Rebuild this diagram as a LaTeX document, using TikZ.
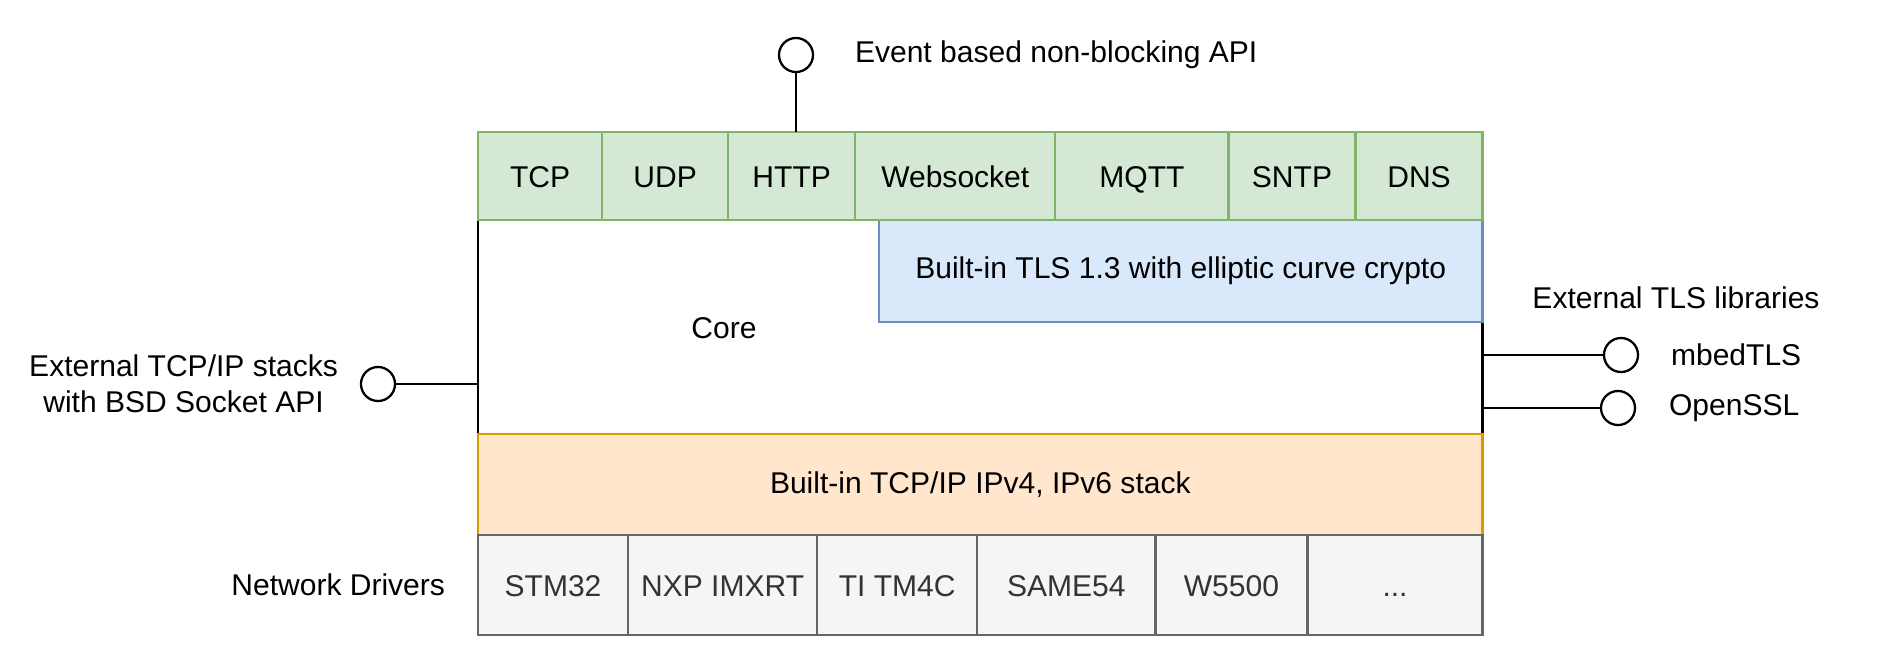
\documentclass[tikz,border=0pt]{standalone}
\usepackage{fontspec}
\setmainfont{Liberation Sans}
\usepackage{tikz}
\usetikzlibrary{positioning}
\definecolor{protofill}{HTML}{D5E8D4}
\definecolor{protoline}{HTML}{82B366}
\definecolor{tlsfill}{HTML}{DAE8FC}
\definecolor{tlsline}{HTML}{6C8EBF}
\definecolor{stackfill}{HTML}{FFE6CC}
\definecolor{stackline}{HTML}{D79B00}
\definecolor{drvfill}{HTML}{F5F5F5}
\definecolor{drvline}{HTML}{666666}
\definecolor{drvtext}{HTML}{333333}

\begin{document}
\begin{tikzpicture}[x=0.01cm, y=-0.01cm, line width=0.65pt,
    every node/.style={font=\fontsize{8.54pt}{10.25pt}\selectfont, outer sep=0pt},
    proto/.style={draw=protoline, fill=protofill, minimum height=0.88cm, inner sep=0pt, text height=1.6ex, text depth=0.4ex},
    driver/.style={draw=drvline, fill=drvfill, text=drvtext, minimum height=1cm, inner sep=0pt, text height=1.6ex, text depth=0.4ex},
    port/.style={circle, draw, fill=white, minimum size=0.34cm, inner sep=0pt},
    lbl/.style={inner sep=0pt}]
    \useasboundingbox (0,0) rectangle (1888,663);

    % core
    \node[draw, minimum width=10.04cm, minimum height=2.14cm, anchor=north west] (core) at (478,220) {};
    \node (corelbl) at (724,328) {Core};
    \node[draw=tlsline, fill=tlsfill, minimum width=6.03cm, minimum height=1.02cm, anchor=north west] (tls) at (879,220) {Built-in TLS 1.3 with elliptic curve crypto};

    % protocols
    \node[proto, minimum width=1.24cm, anchor=north west] (tcp) at (478,132) {TCP};
    \node[proto, minimum width=1.26cm, right=0pt of tcp] (udp) {UDP};
    \node[proto, minimum width=1.27cm, right=0pt of udp] (http) {HTTP};
    \node[proto, minimum width=2.00cm, right=0pt of http] (ws) {Websocket};
    \node[proto, minimum width=1.73cm, right=0pt of ws] (mqtt) {MQTT};
    \node[proto, minimum width=1.27cm, right=0pt of mqtt] (sntp) {SNTP};
    \node[proto, minimum width=1.27cm, right=0pt of sntp] (dns) {DNS};

    % ip stack
    \node[draw=stackline, fill=stackfill, minimum width=10.04cm, minimum height=1.01cm, anchor=north west] (ipstack) at (478,434) {Built-in TCP/IP IPv4, IPv6 stack};

    % drivers
    \node[driver, minimum width=1.50cm, anchor=north west] (stm) at (478,535) {STM32};
    \node[driver, minimum width=1.89cm, right=0pt of stm] (nxp) {NXP IMXRT};
    \node[driver, minimum width=1.60cm, right=0pt of nxp] (ti) {TI TM4C};
    \node[driver, minimum width=1.78cm, right=0pt of ti] (same) {SAME54};
    \node[driver, minimum width=1.52cm, right=0pt of same] (wiz) {W5500};
    \node[driver, minimum width=1.75cm, right=0pt of wiz] (more) {...};
    \node[lbl, left=0.33cm of stm] (drvlbl) {Network Drivers};

    % interfaces
    \node[port] (api) at (796,55) {};
    \node[lbl, right=0.42cm of api] (apilbl) {Event based non-blocking API};
    \draw (api) -- (api |- http.north);

    \node[port] (ext) at (378,384) {};
    \node[lbl, left=0.23cm of ext, align=center] (extlbl) {External TCP/IP stacks\\with BSD Socket API};
    \draw (ext) -- (ext -| core.west);

    \node[lbl] (tlslbl) at (1676,298) {External TLS libraries};
    \node[port] (mbed) at (1621,355) {};
    \node[lbl, right=0.33cm of mbed] (mbedlbl) {mbedTLS};
    \node[port] (ossl) at (1618,408) {};
    \node[lbl, right=0.34cm of ossl] (ossllbl) {OpenSSL};
    \draw (mbed) -- (mbed -| core.east);
    \draw (ossl) -- (ossl -| core.east);
\end{tikzpicture}
\end{document}
